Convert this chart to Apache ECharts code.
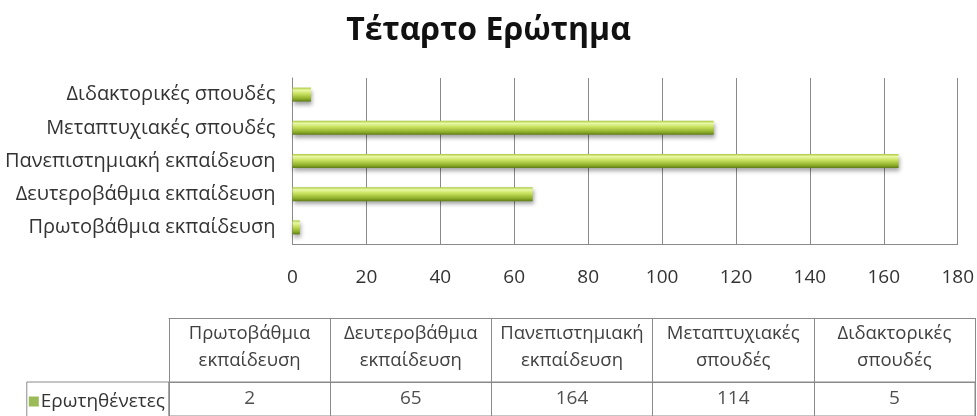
<!DOCTYPE html>
<html>
<head>
<meta charset="utf-8">
<script src="https://cdn.jsdelivr.net/npm/echarts@6/dist/echarts.min.js"></script>
<style>
html, body { margin: 0; padding: 0; background: #fff; }
#main { width: 977px; height: 416px; }
</style>
</head>
<body>
<div id="main"></div>
<script>
// chart data
var titleText = 'Τέταρτο Ερώτημα';
var seriesName = 'Ερωτηθένετες';
var categories = ['Πρωτοβάθμια εκπαίδευση', 'Δευτεροβάθμια εκπαίδευση', 'Πανεπιστημιακή εκπαίδευση', 'Μεταπτυχιακές σπουδές', 'Διδακτορικές σπουδές'];
var tableHeaders = ['Πρωτοβάθμια\nεκπαίδευση', 'Δευτεροβάθμια\nεκπαίδευση', 'Πανεπιστημιακή\nεκπαίδευση', 'Μεταπτυχιακές\nσπουδές', 'Διδακτορικές\nσπουδές'];
var values = [2, 65, 164, 114, 5];
var xMin = 0, xMax = 180, xStep = 20;

var font = '"Open Sans", "Noto Sans", sans-serif';
var gridColor = '#8a8a8a';
var textColor = '#333';

var barFill = new echarts.graphic.LinearGradient(0, 0, 0, 1, [
    {offset: 0, color: '#a9c83c'},
    {offset: 0.18, color: '#eaf8a6'},
    {offset: 0.45, color: '#c6e05c'},
    {offset: 0.8, color: '#8eae2a'},
    {offset: 1, color: '#5e7b16'}
]);

var chart = echarts.init(document.getElementById('main'));

chart.setOption({
    backgroundColor: '#fff',
    animation: false,
    title: {
        text: titleText,
        left: 'center',
        top: 10,
        textStyle: {fontFamily: font, fontSize: 32, fontWeight: 'bold', color: '#111'}
    },
    legend: {
        data: [{name: seriesName, icon: 'rect', itemStyle: {color: '#9bbb59'}}],
        right: 977 - 169,
        top: 382,
        itemWidth: 10,
        itemHeight: 10,
        itemGap: 0,
        padding: [10, 4, 12, 2],
        borderColor: gridColor,
        borderWidth: 1,
        selectedMode: false,
        textStyle: {fontFamily: font, fontSize: 19, color: textColor, padding: [0, 0, 0, -3]}
    },
    grid: [
        {left: 292.5, right: 19, top: 78, bottom: 172},
        {left: 169, right: 2, top: 382, height: 44, show: true, borderColor: gridColor, borderWidth: 1}
    ],
    xAxis: [
        {
            gridIndex: 0,
            type: 'value',
            min: xMin,
            max: xMax,
            interval: xStep,
            axisLine: {show: true, lineStyle: {color: gridColor}},
            axisTick: {show: false},
            axisLabel: {fontFamily: font, fontSize: 19, color: textColor, margin: 24},
            splitLine: {show: true, lineStyle: {color: gridColor, width: 1}}
        },
        {
            gridIndex: 1,
            type: 'category',
            data: tableHeaders,
            position: 'top',
            axisLine: {show: true, lineStyle: {color: gridColor}},
            axisTick: {show: true, interval: 0, length: 64, lineStyle: {color: gridColor}},
            axisLabel: {interval: 0, fontFamily: font, fontSize: 18.5, color: '#404040', margin: 8, lineHeight: 27, align: 'center'},
            splitLine: {show: true, interval: 0, lineStyle: {color: gridColor}}
        },
        {
            gridIndex: 1,
            type: 'category',
            data: tableHeaders,
            position: 'top',
            offset: 64,
            axisLine: {show: true, lineStyle: {color: gridColor}},
            axisTick: {show: false},
            axisLabel: {show: false}
        }
    ],
    yAxis: [
        {
            gridIndex: 0,
            type: 'category',
            data: categories,
            axisLine: {show: true, lineStyle: {color: gridColor}},
            axisTick: {show: false},
            axisLabel: {fontFamily: font, fontSize: 20, color: textColor, margin: 17}
        },
        {
            gridIndex: 1,
            type: 'category',
            data: [seriesName],
            axisLine: {show: false},
            axisTick: {show: false},
            axisLabel: {show: false}
        }
    ],
    series: [
        {
            name: seriesName,
            type: 'bar',
            xAxisIndex: 0,
            yAxisIndex: 0,
            data: values,
            barWidth: 14,
            itemStyle: {
                color: barFill,
                shadowBlur: 4,
                shadowOffsetY: 3,
                shadowOffsetX: 1,
                shadowColor: 'rgba(0,0,0,0.35)'
            }
        },
        {
            name: 'table',
            type: 'scatter',
            xAxisIndex: 1,
            yAxisIndex: 1,
            symbolSize: 0,
            data: values.map(function (v, i) { return [i, 0, v]; }),
            label: {
                show: true,
                position: 'inside',
                fontFamily: font,
                fontSize: 19,
                color: '#222',
                formatter: function (p) { return p.value[2]; }
            }
        }
    ]
});
</script>
</body>
</html>
